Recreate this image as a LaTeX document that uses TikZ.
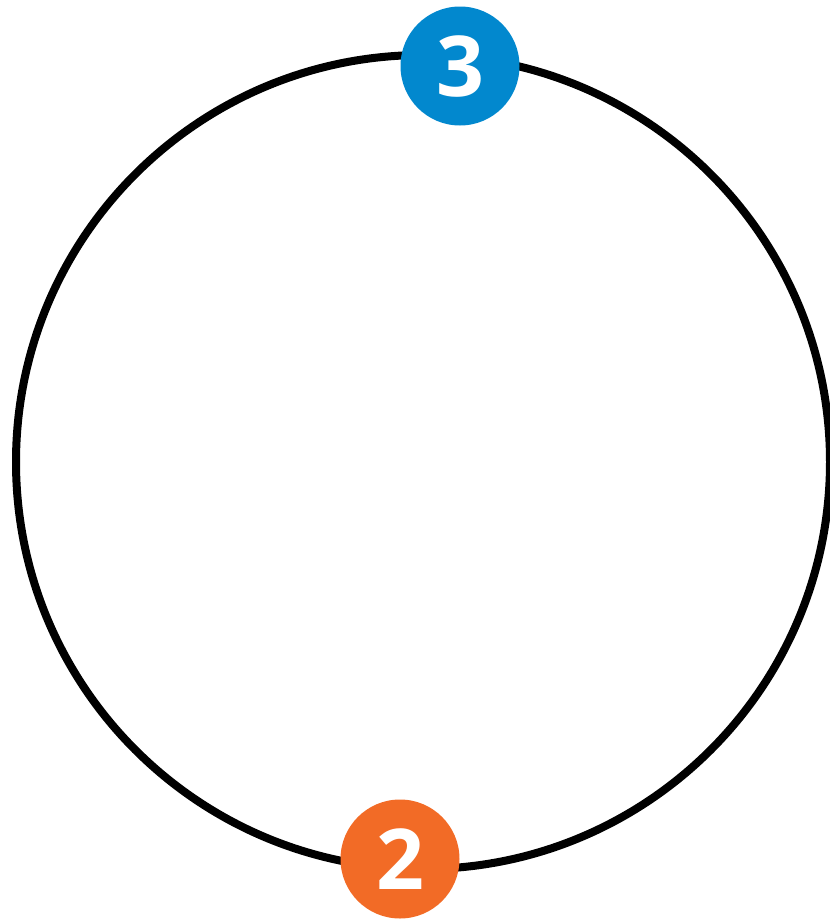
\documentclass[tikz,border=0pt]{standalone}
\usepackage{fontspec}
\setmainfont{Open Sans}
\definecolor{badgeblue}{RGB}{2,136,206}
\definecolor{badgeorange}{RGB}{242,107,38}
\begin{document}
\begin{tikzpicture}[x=1pt,y=-1pt,
  badge/.style={circle,minimum size=119pt,inner sep=0pt,text=white,font=\fontsize{84}{84}\selectfont\bfseries}]
\useasboundingbox (0,0) rectangle (830,919);
\node[circle,draw=black,line width=8pt,minimum size=814pt,inner sep=0pt] (ring) at (423,462) {};
\node[badge,fill=badgeblue] (three) at (460,66) {3};
\node[badge,fill=badgeorange] (two) at (400,859) {2};
\end{tikzpicture}
\end{document}
